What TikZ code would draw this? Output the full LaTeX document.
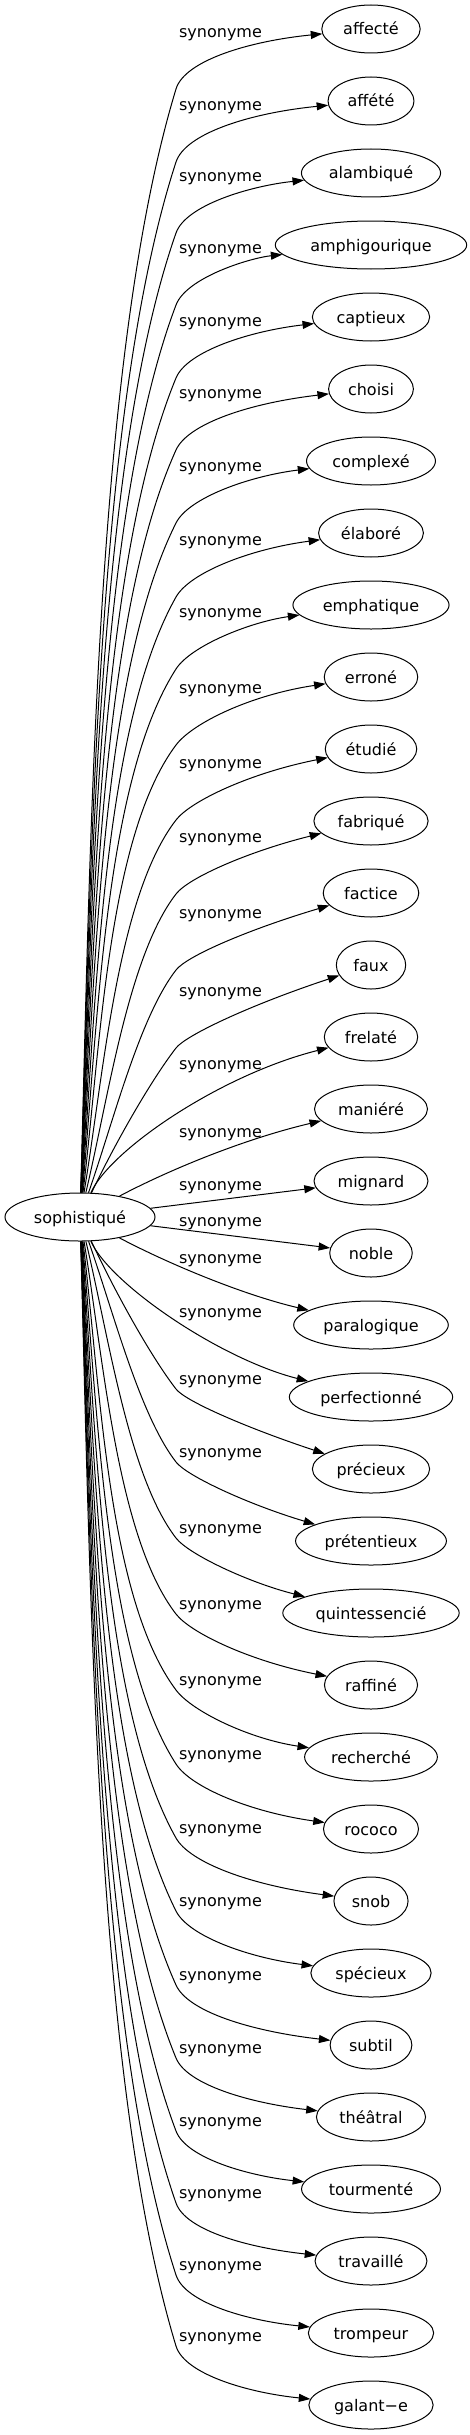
\documentclass[tikz,border=0pt]{standalone}
\usepackage{fontspec}
\setmainfont{DejaVu Sans}
\usetikzlibrary{arrows.meta}
\usetikzlibrary{shapes.geometric}
\tikzset{word/.style = {draw, ellipse, line width=1pt, inner xsep=7pt, inner ysep=0pt,
                        minimum height=48pt, text height=15pt, text depth=3pt,
                        font=\fontsize{16}{19}\selectfont}}
\tikzset{rel/.style = {anchor=base, inner sep=0pt, font=\fontsize{16}{19}\selectfont}}
\tikzset{link/.style = {line width=1pt, -{Triangle[length=11.5pt, width=8pt]}}}

\begin{document}
\begin{tikzpicture}[x=1pt, y=-1pt]
  \useasboundingbox (0, 0) rectangle (469, 2435);

  \node [word] (root) at (80, 1217) {sophistiqué};

  % words and their labels
  \foreach \w/\ly [count=\i from 0] in {affecté/33, affété/106, alambiqué/177,
      amphigourique/249, captieux/322, choisi/394, complexé/467, élaboré/541,
      emphatique/613, erroné/689, étudié/764, fabriqué/838, factice/914,
      faux/992, frelaté/1065, maniéré/1133, mignard/1186, noble/1222,
      paralogique/1259, perfectionné/1313, précieux/1380, prétentieux/1453,
      quintessencié/1529, raffiné/1605, recherché/1681, rococo/1755,
      snob/1829, spécieux/1902, subtil/1976, théâtral/2049, tourmenté/2122,
      travaillé/2194, trompeur/2266, galant−e/2337}{
    \node [word] (s\i) at (371, 29 + 72*\i) {\w};
    \node [rel] (l\i) at (220.5, \ly + 4.5) {synonyme};
  }

  % long edges, bent at (176, vy)
  \foreach \i/\vy/\q in {0/89/12, 1/162/12, 2/233/13, 3/305/13, 4/378/14,
      5/450/14, 6/523/15, 7/597/16, 8/669/17, 9/745/18, 10/820/24,
      11/894/30, 12/970/36, 13/1048/40,
      20/1389/40, 21/1462/36, 22/1538/30, 23/1614/24, 24/1690/18,
      25/1764/17, 26/1838/16, 27/1911/15, 28/1985/14, 29/2058/14,
      30/2131/13, 31/2203/13, 32/2275/12, 33/2346/12}{
    \pgfmathsetmacro\yc{29 + 72*\i}
    \pgfmathsetmacro\sg{\i < 17 ? -1 : 1}
    \pgfmathsetmacro\sy{\i < 17 ? 1193 : 1241}
    \pgfmathsetmacro\dy{\vy - \sy}
    \pgfmathsetmacro\gf{min(1, 250/abs(\dy))}
    \pgfmathsetmacro\ax{84 + 29.4*\gf}
    \pgfmathsetmacro\ay{\sy + 0.32*\dy}
    \pgfmathsetmacro\ty{\dy < 0 ? min(0.23*\dy, -100) : max(0.23*\dy, 100)}
    \pgfmathsetmacro\tn{veclen(77.2, \ty)}
    \pgfmathsetmacro\pl{veclen(92, \dy)}
    \pgfmathsetmacro\bx{176 - 0.25*\pl/\tn*77.2}
    \pgfmathsetmacro\by{\vy - 0.25*\pl/\tn*\ty}
    \pgfmathsetmacro\qk{36 - 0.5*\q}
    \pgfmathsetmacro\qx{176 + \qk*77.2/\tn}
    \pgfmathsetmacro\qy{\vy + \qk*\ty/\tn}
    \pgfmathsetmacro\ey{\yc - \sg*\q}
    \draw [link] (root) .. controls (\ax, \ay) and (\bx, \by)
                 .. (176, \vy) .. controls (\qx, \qy) and (250, \ey) .. (s\i);
  }

  % short edges
  \draw [link] (root) .. controls (110, 1150) and (220, 1075) .. (s14);
  \draw [link] (root) .. controls (165, 1172) and (240, 1140) .. (s15);
  \draw [link] (root) -- (s16);
  \draw [link] (root) -- (s17);
  \draw [link] (root) .. controls (165, 1262) and (240, 1294) .. (s18);
  \draw [link] (root) .. controls (110, 1284) and (220, 1359) .. (s19);
\end{tikzpicture}
\end{document}
